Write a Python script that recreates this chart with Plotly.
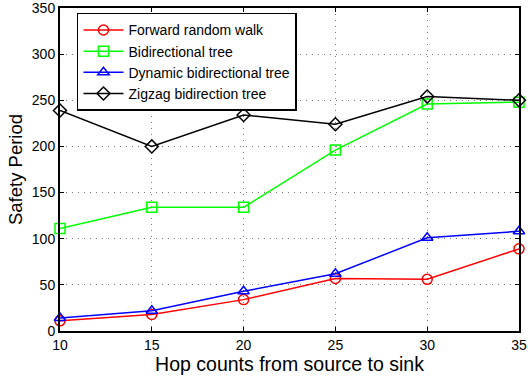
import plotly.graph_objects as go

hops = [10, 15, 20, 25, 30, 35]
forward_random_walk = [11, 18, 34, 57, 56, 89]
bidirectional_tree = [111, 134, 134, 196, 246, 248]
dynamic_bidirectional_tree = [14, 22, 43, 62, 101, 108]
zigzag_bidirection_tree = [239, 200, 234, 224, 254, 250]

series = [
    ("Forward random walk", forward_random_walk, "#ff0000", "circle-open"),
    ("Bidirectional tree", bidirectional_tree, "#00ff00", "square-open"),
    ("Dynamic bidirectional tree", dynamic_bidirectional_tree, "#0000ff", "triangle-up-open"),
    ("Zigzag bidirection tree", zigzag_bidirection_tree, "#000000", "diamond-open"),
]

fig = go.Figure()
for name, vals, col, sym in series:
    fig.add_trace(go.Scatter(
        x=hops, y=vals, name=name, mode="lines+markers",
        line=dict(color=col, width=1.5),
        marker=dict(symbol=sym, size=10, color=col, line=dict(color=col, width=1.5)),
        cliponaxis=False,
    ))

axis_common = dict(
    showline=True, linecolor="black", linewidth=2, mirror="ticks",
    ticks="inside", ticklen=4, tickcolor="black",
    showgrid=True, gridcolor="#777777", griddash="1px,5px", gridwidth=1,
    zeroline=False, automargin=False, ticklabeloverflow="allow",
    tickfont=dict(family="Liberation Sans, Arial", size=14, color="black"),
)

fig.update_layout(
    width=528, height=381,
    margin=dict(l=60, r=9, t=8, b=50),
    paper_bgcolor="white", plot_bgcolor="white",
    font=dict(family="Liberation Sans, Arial", color="black"),
    xaxis=dict(range=[10, 35], tickvals=[10, 15, 20, 25, 30, 35],
               title=dict(text="Hop counts from source to sink", font=dict(size=19.5), standoff=2),
               **axis_common),
    yaxis=dict(range=[0, 350], tickvals=[0, 50, 100, 150, 200, 250, 300, 350],
               title=dict(text="Safety Period", font=dict(size=18.5), standoff=4),
               **axis_common),
    legend=dict(x=0.037, y=0.985, xanchor="left", yanchor="top",
                bgcolor="white", bordercolor="black", borderwidth=1.5,
                font=dict(size=14), tracegroupgap=0, itemwidth=40),
    showlegend=True,
)

fig.write_html("out.html", config={"displayModeBar": False},
               post_script="document.body.style.margin='0';document.body.style.overflow='hidden';")
